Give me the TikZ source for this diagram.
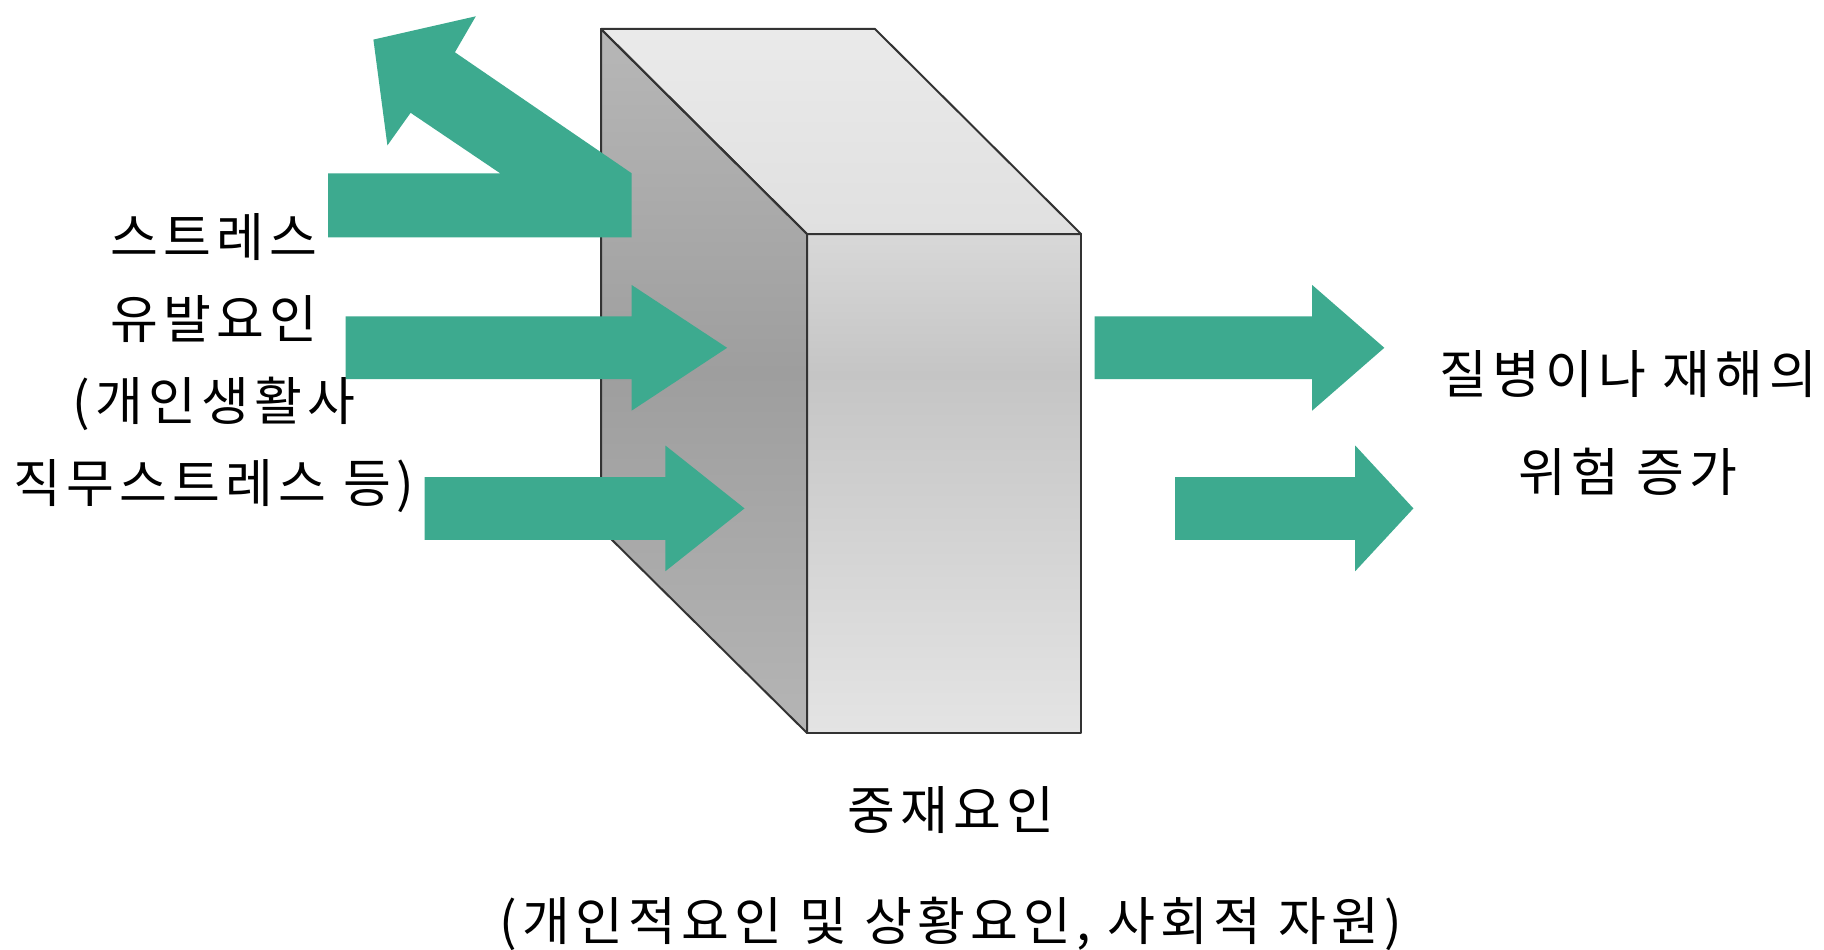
\documentclass[tikz,border=0pt]{standalone}
\usepackage{fontspec}
\setmainfont[LetterSpace=10]{Noto Sans CJK KR}
\definecolor{arrowgreen}{RGB}{61,170,143}
\definecolor{edgegray}{RGB}{51,51,51}
\definecolor{lfA}{RGB}{181,181,181}
\definecolor{lfB}{RGB}{158,158,158}
\definecolor{lfC}{RGB}{183,183,183}
\definecolor{ffTop}{RGB}{216,216,216}
\definecolor{ffMid}{RGB}{197,197,197}
\definecolor{ffBot}{RGB}{228,228,228}
\definecolor{tfTop}{RGB}{234,234,234}
\definecolor{tfBot}{RGB}{224,224,224}
\pgfdeclareverticalshading{leftfaceshade}{100bp}{color(0bp)=(lfA); color(25bp)=(lfA); color(50.6bp)=(lfB); color(75bp)=(lfC); color(100bp)=(lfC)}
\pgfdeclareverticalshading{frontfaceshade}{100bp}{color(0bp)=(ffBot); color(25bp)=(ffBot); color(61bp)=(ffMid); color(75bp)=(ffTop); color(100bp)=(ffTop)}
\pgfdeclareverticalshading{topfaceshade}{100bp}{color(0bp)=(tfBot); color(25bp)=(tfBot); color(75bp)=(tfTop); color(100bp)=(tfTop)}
\tikzset{
  blockarrow/.style={fill=arrowgreen, draw=none},
  boxedge/.style={draw=edgegray, line width=2pt, line join=round},
  txt/.style={font=\fontsize{52}{82}\selectfont, align=center, inner sep=0pt, text=black}
}
\begin{document}
\begin{tikzpicture}[x=1pt,y=-1pt]
\fill[white] (0,0) rectangle (1824,950);
\useasboundingbox (0,0) rectangle (1824,950);
% box corners
\coordinate (B1) at (601,29);
\coordinate (B2) at (875,29);
\coordinate (F1) at (807,234);
\coordinate (F2) at (1081,234);
\coordinate (F3) at (1081,733);
\coordinate (F4) at (807,733);
\coordinate (B4) at (601,529);
% faces
\shade[shading=topfaceshade] (B1) -- (B2) -- (F2) -- (F1) -- cycle;
\shade[shading=leftfaceshade] (B1) -- (F1) -- (F4) -- (B4) -- cycle;
\shade[shading=frontfaceshade] (F1) -- (F2) -- (F3) -- (F4) -- cycle;
\draw[boxedge] (B1) -- (B2) -- (F2) -- (F1) -- cycle;
\draw[boxedge] (B1) -- (F1) -- (F4) -- (B4) -- cycle;
\draw[boxedge] (F1) -- (F2) -- (F3) -- (F4) -- cycle;
% bent arrow (reflected stress)
\fill[blockarrow] (328,237.3) -- (631.7,237.3) -- (631.7,173.3) -- (454.9,52.3) -- (475.8,16.3) -- (373.4,39.6) -- (387.4,145.4) -- (410.6,112.8) -- (500.2,173.3) -- (328,173.3) -- cycle;
% incoming arrows
\fill[blockarrow] (345.5,316.4) -- (631.7,316.4) -- (631.7,285) -- (727.1,347.8) -- (631.7,410.6) -- (631.7,379.2) -- (345.5,379.2) -- cycle;
\fill[blockarrow] (424.6,477) -- (665.4,477) -- (665.4,445.5) -- (744.5,508.4) -- (665.4,571.2) -- (665.4,539.8) -- (424.6,539.8) -- cycle;
% outgoing arrows
\fill[blockarrow] (1094.7,316.4) -- (1312.2,316.4) -- (1312.2,285) -- (1384.3,347.8) -- (1312.2,410.6) -- (1312.2,379.2) -- (1094.7,379.2) -- cycle;
\fill[blockarrow] (1175,477) -- (1355.2,477) -- (1355.2,445.5) -- (1413.4,508.4) -- (1355.2,571.2) -- (1355.2,539.8) -- (1175,539.8) -- cycle;
% texts
\node[txt] (stressor) at (214,363) {스트레스\\유발요인\\(개인생활사\\직무스트레스 등)};
\node[txt, font=\fontsize{52}{98}\selectfont] (outcome) at (1628,423) {질병이나 재해의\\위험 증가};
\node[txt, font=\fontsize{52}{111}\selectfont] (moderator) at (951,869) {중재요인\\(개인적요인 및 상황요인, 사회적 자원)};
\end{tikzpicture}
\end{document}
